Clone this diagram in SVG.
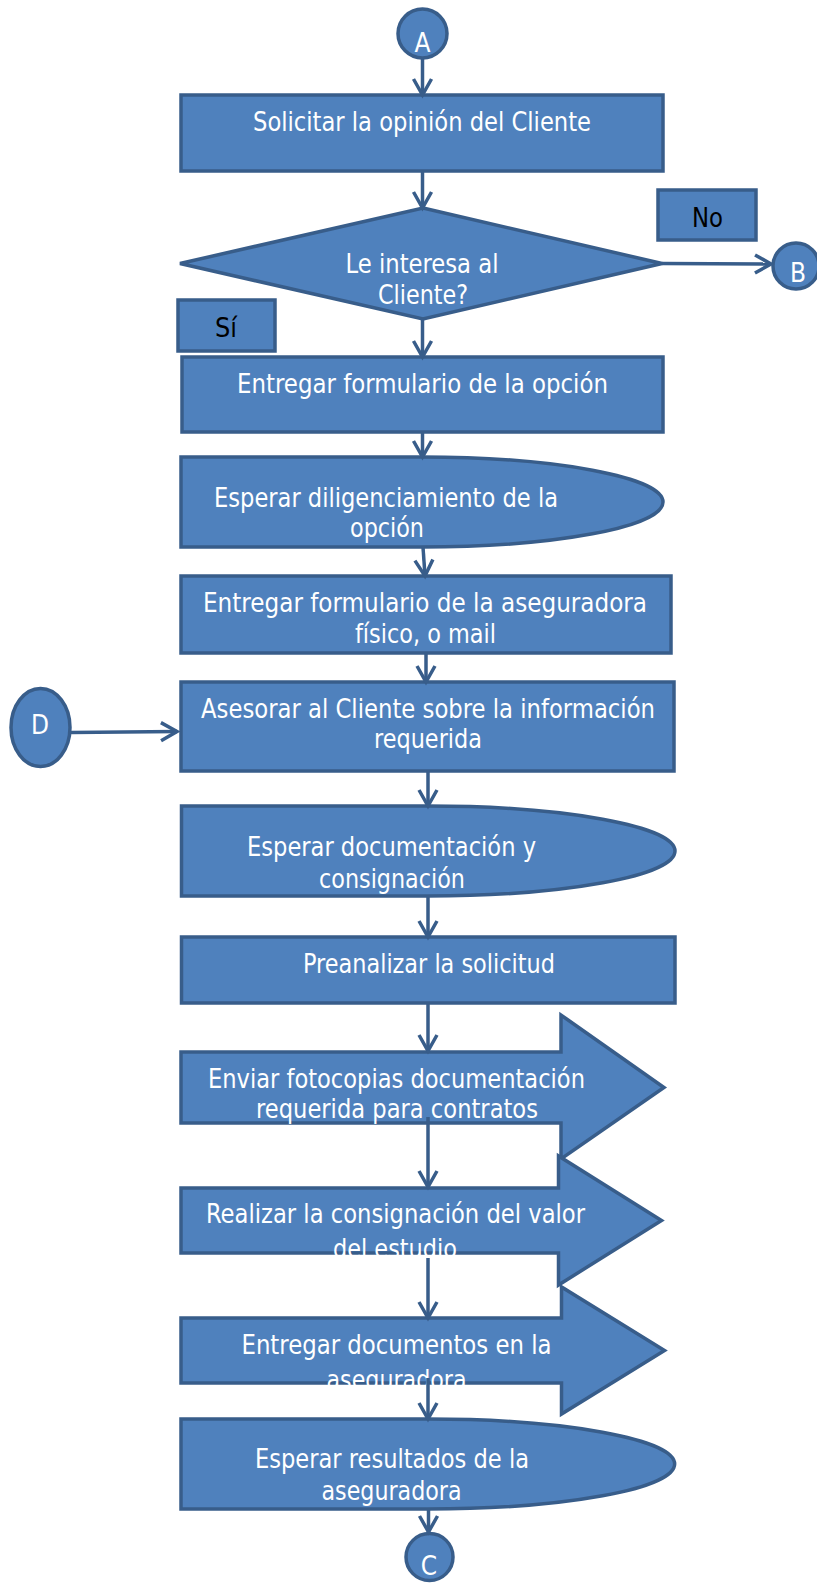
<svg xmlns="http://www.w3.org/2000/svg" width="817" height="1583" viewBox="0 0 817 1583">
<style>
.s{fill:#4F81BD;stroke:#385D8A;stroke-width:3.5}
.t{font-family:"DejaVu Sans Condensed","DejaVu Sans",sans-serif;font-size:26px;fill:#FFFFFF;text-anchor:middle}
.k{fill:#000000}
.c{fill:none;stroke:#385D8A;stroke-width:3.5}
</style>
<defs>
<marker id="ah" markerUnits="userSpaceOnUse" markerWidth="24" markerHeight="24" refX="17" refY="10" orient="auto" overflow="visible">
<path d="M1,1 L17,10 L1,19" fill="none" stroke="#385D8A" stroke-width="3.5" stroke-linejoin="miter"/>
</marker>
</defs>
<rect width="817" height="1583" fill="#FFFFFF"/>

<g id="nodeA">
<circle class="s" cx="422.5" cy="33.5" r="24.5"/>
<text class="t" x="422.5" y="51.5" font-size="25">A</text>
</g>
<g id="n1">
<rect class="s" x="181" y="95" width="482" height="76"/>
<text class="t" x="422" y="131" font-size="27" textLength="338" lengthAdjust="spacingAndGlyphs">Solicitar la opinión del Cliente</text>
</g>
<g id="decision">
<polygon class="s" points="423,208 662,263.5 423,319 180,263.5"/>
<text class="t" x="422" y="272.5" textLength="153" lengthAdjust="spacingAndGlyphs">Le interesa al</text>
<text class="t" x="423" y="304" textLength="90" lengthAdjust="spacingAndGlyphs">Cliente?</text>
</g>
<g id="labelNo">
<rect class="s" x="658" y="190" width="98" height="50"/>
<text class="t k" x="707.5" y="226.5" font-size="25" textLength="31" lengthAdjust="spacingAndGlyphs">No</text>
</g>
<g id="labelSi">
<rect class="s" x="178" y="300" width="97" height="51"/>
<text class="t k" x="226" y="336.5" font-size="25" textLength="22" lengthAdjust="spacingAndGlyphs">Sí</text>
</g>
<g id="nodeB">
<circle class="s" cx="796" cy="266" r="23"/>
<text class="t" x="798" y="281.5" font-size="25">B</text>
</g>
<g id="n2">
<rect class="s" x="182" y="357" width="481" height="75"/>
<text class="t" x="422.5" y="393" textLength="371" lengthAdjust="spacingAndGlyphs">Entregar formulario de la opción</text>
</g>
<g id="n3">
<path class="s" d="M181,457 H422 A241,45 0 0 1 422,547 H181 Z"/>
<text class="t" x="386" y="506.5" textLength="344" lengthAdjust="spacingAndGlyphs">Esperar diligenciamiento de la</text>
<text class="t" x="387" y="536.5" textLength="74" lengthAdjust="spacingAndGlyphs">opción</text>
</g>
<g id="n4">
<rect class="s" x="181" y="576" width="490" height="77"/>
<text class="t" x="425" y="612" textLength="444" lengthAdjust="spacingAndGlyphs">Entregar formulario  de la aseguradora</text>
<text class="t" x="425.5" y="643" textLength="141" lengthAdjust="spacingAndGlyphs">físico, o mail</text>
</g>
<g id="nodeD">
<ellipse class="s" cx="40.5" cy="727.5" rx="29.5" ry="39"/>
<text class="t" x="40" y="733.5" font-size="25">D</text>
</g>
<g id="n5">
<rect class="s" x="181" y="682" width="493" height="89"/>
<text class="t" x="428" y="717.5" textLength="454" lengthAdjust="spacingAndGlyphs">Asesorar al Cliente sobre la información</text>
<text class="t" x="428" y="748" textLength="108" lengthAdjust="spacingAndGlyphs">requerida</text>
</g>
<g id="n6">
<path class="s" d="M181.5,806 H428 A247,45 0 0 1 428,896 H181.5 Z"/>
<text class="t" x="391.5" y="856" textLength="289" lengthAdjust="spacingAndGlyphs">Esperar documentación y</text>
<text class="t" x="392" y="888" textLength="146" lengthAdjust="spacingAndGlyphs">consignación</text>
</g>
<g id="n7">
<rect class="s" x="181.5" y="937" width="493.5" height="66"/>
<text class="t" x="429" y="973" textLength="252" lengthAdjust="spacingAndGlyphs">Preanalizar la solicitud</text>
</g>
<g id="n8">
<path class="s" d="M181,1052 H561 V1015 L664,1087.5 L561,1159 V1123 H181 Z"/>
<text class="t" x="396.5" y="1088" textLength="377" lengthAdjust="spacingAndGlyphs">Enviar fotocopias documentación</text>
<text class="t" x="397" y="1118" textLength="282" lengthAdjust="spacingAndGlyphs">requerida para contratos</text>
</g>
<g id="n9">
<path class="s" d="M181,1188 H558.5 V1156 L661.5,1220.5 L558.5,1285 V1253 H181 Z"/>
<text class="t" x="395.5" y="1223" textLength="379" lengthAdjust="spacingAndGlyphs">Realizar la consignación del valor</text>
<text class="t" x="395" y="1258" textLength="124" lengthAdjust="spacingAndGlyphs">del estudio</text>
</g>
<g id="n10">
<path class="s" d="M181,1318 H561.5 V1287 L664.5,1350.5 L561.5,1414 V1383 H181 Z"/>
<text class="t" x="396.5" y="1354" textLength="310" lengthAdjust="spacingAndGlyphs">Entregar documentos en la</text>
<text class="t" x="396.5" y="1389" textLength="140" lengthAdjust="spacingAndGlyphs">aseguradora</text>
</g>
<g id="n11">
<path class="s" d="M181,1419 H428 A247,45 0 0 1 428,1509 H181 Z"/>
<text class="t" x="392" y="1468" textLength="274" lengthAdjust="spacingAndGlyphs">Esperar resultados de la</text>
<text class="t" x="391.5" y="1500" textLength="140" lengthAdjust="spacingAndGlyphs">aseguradora</text>
</g>
<g id="nodeC">
<circle class="s" cx="429.5" cy="1557" r="23.5"/>
<text class="t" x="429" y="1575" font-size="25">C</text>
</g>

<g id="connectors">
<line class="c" x1="422.5" y1="58" x2="422.5" y2="95" marker-end="url(#ah)"/>
<line class="c" x1="422.5" y1="171" x2="422.5" y2="208" marker-end="url(#ah)"/>
<line class="c" x1="662" y1="263.5" x2="771" y2="264" marker-end="url(#ah)"/>
<line class="c" x1="422.5" y1="319" x2="422.5" y2="357" marker-end="url(#ah)"/>
<line class="c" x1="422.5" y1="432" x2="422.5" y2="457" marker-end="url(#ah)"/>
<line class="c" x1="423" y1="547" x2="425" y2="576" marker-end="url(#ah)"/>
<line class="c" x1="426" y1="653" x2="426" y2="682" marker-end="url(#ah)"/>
<line class="c" x1="71" y1="732.5" x2="177" y2="731.5" marker-end="url(#ah)"/>
<line class="c" x1="428" y1="771" x2="428" y2="806" marker-end="url(#ah)"/>
<line class="c" x1="428" y1="896" x2="428" y2="937" marker-end="url(#ah)"/>
<line class="c" x1="428" y1="1004" x2="428" y2="1051" marker-end="url(#ah)"/>
<line class="c" x1="428" y1="1117" x2="428" y2="1187" marker-end="url(#ah)"/>
<line class="c" x1="428" y1="1258" x2="428" y2="1318" marker-end="url(#ah)"/>
<line class="c" x1="428" y1="1378" x2="428" y2="1419" marker-end="url(#ah)"/>
<line class="c" x1="428.5" y1="1509" x2="428.5" y2="1532" marker-end="url(#ah)"/>
</g>
</svg>
